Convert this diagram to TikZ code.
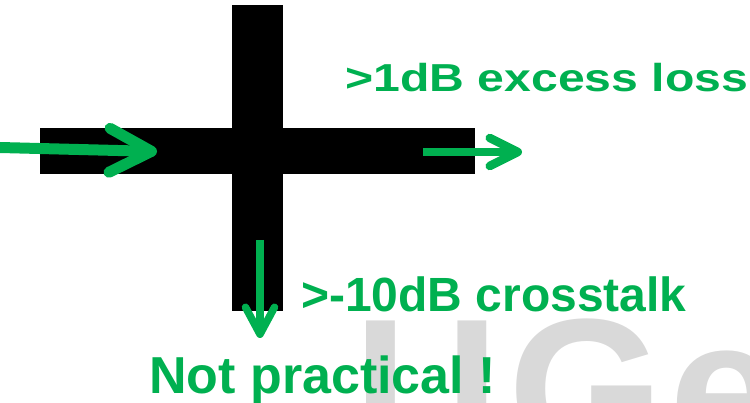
\documentclass[tikz,border=0pt]{standalone}
\usepackage{fontspec}
\setmainfont{Liberation Sans}
\usepackage{tikz}
\usetikzlibrary{positioning,arrows.meta}
\definecolor{ugreen}{HTML}{00B050}
\definecolor{wmgray}{HTML}{D9D9D9}

\begin{document}
\begin{tikzpicture}[x=1pt, y=-1pt,
    waveguide/.style={fill=black, draw=none},
    beam/.style={draw=ugreen},
    greentext/.style={text=ugreen, inner sep=0pt, anchor=base west, font=\bfseries}]
  \useasboundingbox (0,0) rectangle (750,403);

  % Watermark behind everything, cut at the page edge
  \begin{scope}
    \clip (0,0) rectangle (750,403);
    \node (logo) [anchor=base west, inner sep=0pt, text=wmgray,
      font=\fontsize{200}{200}\selectfont\bfseries] at (354,458) {U\kern10pt G\kern5pt e};
  \end{scope}

  % Crossing: two black waveguides
  \fill[waveguide] (40,128) rectangle (475,174);
  \fill[waveguide] (232,5) rectangle (283,311);

  % Arrow end points
  \coordinate (inStart) at (0,147.5);
  \coordinate (inEnd) at (157,151.5);
  \coordinate (thruStart) at (423,152);
  \coordinate (thruEnd) at (522,152);
  \coordinate (xtStart) at (260,240);
  \coordinate (xtEnd) at (260,338);

  % Input, transmitted and crosstalk light
  \draw[beam, line width=11pt, -{Straight Barb[length=42pt, width=44pt, round]}] (inStart) -- (inEnd);
  \draw[beam, line width=8.5pt, -{Straight Barb[length=28pt, width=28pt, round]}] (thruStart) -- (thruEnd);
  \draw[beam, line width=7.5pt, -{Straight Barb[length=27pt, width=29pt, round]}] (xtStart) -- (xtEnd);

  % Labels
  \node (loss) [greentext, xscale=1.235, font=\fontsize{39}{39}\selectfont\bfseries] at (345,92) {>1dB excess loss};
  \node (xtalk) [greentext, font=\fontsize{48}{48}\selectfont\bfseries] at (301,312) {>-10dB crosstalk};
  \node (verdict) [greentext, font=\fontsize{52}{52}\selectfont\bfseries] at (149,393) {Not practical !};
\end{tikzpicture}
\end{document}
